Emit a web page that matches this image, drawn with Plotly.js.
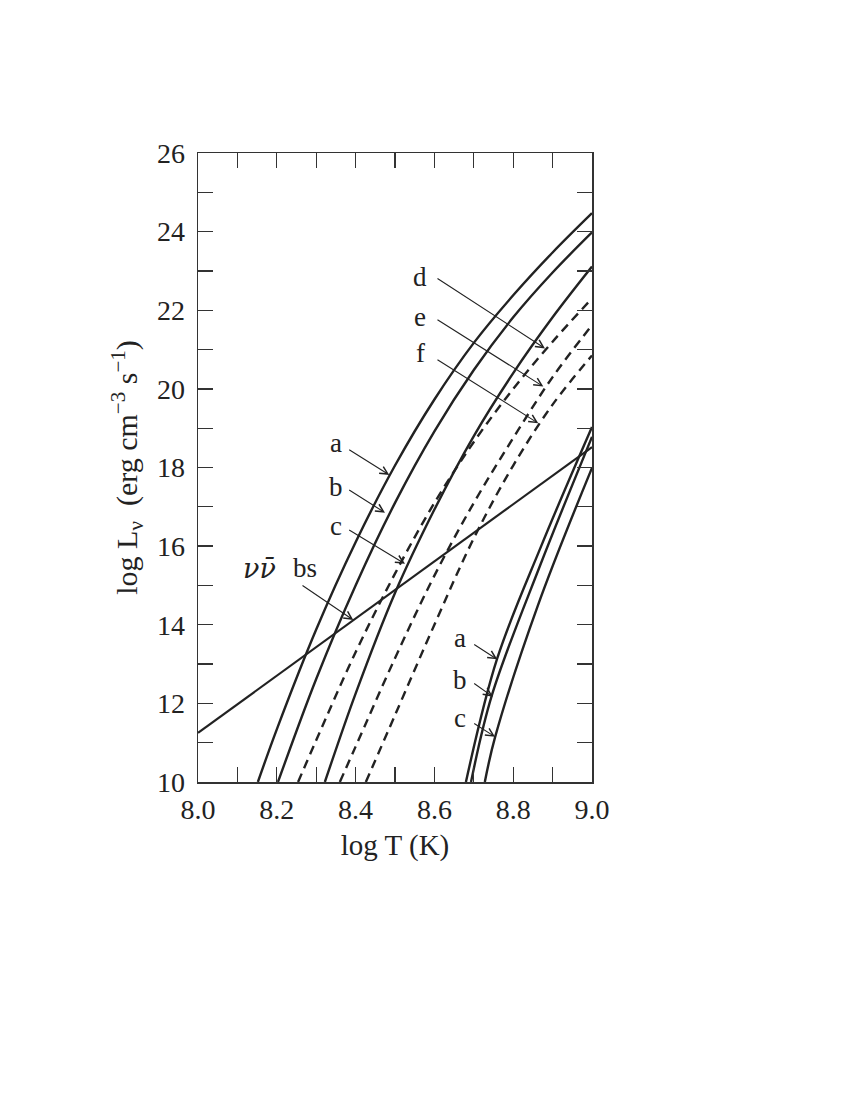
<!DOCTYPE html>
<html>
<head>
<meta charset="utf-8">
<script src="https://cdn.plot.ly/plotly-3.0.1.min.js"></script>
<style>html,body{margin:0;padding:0;background:#fff;}#chart{width:850px;height:1100px;}</style>
</head>
<body>
<div id="chart"></div>
<script>
// ---- data (log T in K, log L in erg cm^-3 s^-1) ----
var aT = [8.152, 8.2, 8.3, 8.4, 8.5, 8.6, 8.7, 8.8, 8.9, 9.0];
var aL = [10, 11.34, 13.88, 16.1, 18.05, 19.73, 21.17, 22.38, 23.47, 24.47];
var bT = [8.203, 8.3, 8.4, 8.5, 8.6, 8.7, 8.8, 8.9, 9.0];
var bL = [10, 12.62, 15.0, 17.1, 18.92, 20.48, 21.82, 22.96, 23.98];
var cT = [8.322, 8.4, 8.5, 8.6, 8.7, 8.8, 8.9, 9.0];
var cL = [10, 12.25, 14.81, 16.93, 18.8, 20.4, 21.82, 23.11];
var dT = [8.254, 8.3, 8.4, 8.5, 8.6, 8.7, 8.8, 8.9, 9.0];
var dL = [10, 11.06, 13.3, 15.3, 17.1, 18.65, 20.0, 21.2, 22.3];
var eT = [8.36, 8.4, 8.5, 8.6, 8.7, 8.8, 8.9, 9.0];
var eL = [10, 10.9, 13.15, 15.25, 17.1, 18.75, 20.3, 21.62];
var fT = [8.426, 8.5, 8.6, 8.7, 8.8, 8.9, 9.0];
var fL = [10, 11.7, 14.0, 16.2, 18.05, 19.6, 20.85];
var raT = [8.680, 8.759, 8.871, 9.0];
var raL = [10, 13.13, 16.0, 19.03];
var rbT = [8.693, 8.746, 8.868, 9.0];
var rbL = [10, 12.21, 15.5, 18.78];
var rcT = [8.728, 8.754, 8.863, 9.0];
var rcL = [10, 11.14, 14.5, 17.99];
var bsT = [8.0, 9.0];
var bsL = [11.25, 18.52];

var xTickVals = [8.0, 8.2, 8.4, 8.6, 8.8, 9.0];
var xTickText = ['8.0', '8.2', '8.4', '8.6', '8.8', '9.0'];
var xMinorVals = [8.1, 8.3, 8.5, 8.7, 8.9];
var yTickVals = [10, 12, 14, 16, 18, 20, 22, 24, 26];
var yTickText = ['10', '12', '14', '16', '18', '20', '22', '24', '26'];
var yMinorVals = [11, 13, 15, 17, 19, 21, 23, 25];

// ---- styling ----
var INK = '#222222';
var FONT = 'Liberation Serif';
function curve(x, y, dashed) {
  return {x: x, y: y, mode: 'lines', type: 'scatter', hoverinfo: 'skip', showlegend: false,
    line: {color: INK, width: 2.4, shape: 'spline', smoothing: 1, dash: dashed ? '9px,6px' : 'solid'}};
}
var traces = [
  curve(aT, aL, false), curve(bT, bL, false), curve(cT, cL, false),
  curve(dT, dL, true), curve(eT, eL, true), curve(fT, fL, true),
  curve(raT, raL, false), curve(rbT, rbL, false), curve(rcT, rcL, false),
  {x: bsT, y: bsL, mode: 'lines', type: 'scatter', hoverinfo: 'skip', showlegend: false,
   line: {color: INK, width: 2.2}}
];

function label(t, x, y, fam) {
  return {text: t, x: x, y: y, xref: 'x', yref: 'y', showarrow: false,
    font: {family: fam || FONT, size: 27, color: INK}};
}
function arrow(x0, y0, x1, y1) {
  return {text: ' ', x: x1, y: y1, ax: x0, ay: y0, xref: 'x', yref: 'y', axref: 'x', ayref: 'y',
    showarrow: true, arrowhead: 5, arrowsize: 1.4, arrowwidth: 1.1, arrowcolor: INK, standoff: 0, startstandoff: 0,
    font: {size: 6}};
}
var annotations = [
  label('d', 8.5635, 22.85), label('e', 8.5635, 21.84), label('f', 8.5635, 20.91),
  label('a', 8.350, 18.62), label('b', 8.350, 17.51), label('c', 8.350, 16.51),
  label('<i>νν̄</i>', 8.157, 15.44, 'DejaVu Serif'), label('bs', 8.272, 15.44),
  label('a', 8.665, 13.66), label('b', 8.665, 12.59), label('c', 8.665, 11.62),
  arrow(8.6015, 22.85, 8.8807, 21.03),
  arrow(8.6015, 21.80, 8.8764, 20.06),
  arrow(8.6015, 20.78, 8.8637, 19.125),
  arrow(8.3774, 18.49, 8.4855, 17.81),
  arrow(8.3774, 17.47, 8.4746, 16.85),
  arrow(8.3774, 16.45, 8.5254, 15.55),
  arrow(8.2589, 15.04, 8.3942, 14.12),
  arrow(8.6947, 13.54, 8.7596, 13.12),
  arrow(8.6947, 12.55, 8.748, 12.17),
  arrow(8.6947, 11.53, 8.7538, 11.15)
];

var axisCommon = {
  showgrid: false, zeroline: false, showline: true, linecolor: '#333', linewidth: 1.5,
  mirror: 'ticks', ticks: 'inside', ticklen: 15, tickwidth: 1.3, tickcolor: '#333',
  tickmode: 'array', tickfont: {family: FONT, size: 28, color: INK}
};
var layout = {
  width: 850, height: 1100,
  margin: {l: 198, r: 258, t: 153, b: 318},
  paper_bgcolor: '#fff', plot_bgcolor: '#fff',
  showlegend: false,
  xaxis: Object.assign({}, axisCommon, {range: [8, 9], tickvals: xTickVals, ticktext: xTickText,
    minor: {tickmode: 'array', tickvals: xMinorVals, ticks: 'inside', ticklen: 15, tickwidth: 1.3, tickcolor: '#333'},
    ticklabelstandoff: 2,
    title: {text: 'log T (K)', font: {family: FONT, size: 29, color: INK}, standoff: 10}}),
  yaxis: Object.assign({}, axisCommon, {range: [10, 26], tickvals: yTickVals, ticktext: yTickText,
    minor: {tickmode: 'array', tickvals: yMinorVals, ticks: 'inside', ticklen: 15, tickwidth: 1.3, tickcolor: '#333'},
    ticklabelstandoff: 6,
    title: {text: 'log L<sub>ν</sub>  (erg cm<sup>−3</sup> s<sup>−1</sup>)', font: {family: FONT, size: 30, color: INK}, standoff: 10}}),
  annotations: annotations
};
Plotly.newPlot('chart', traces, layout, {staticPlot: true, displayModeBar: false});
</script>
</body>
</html>
